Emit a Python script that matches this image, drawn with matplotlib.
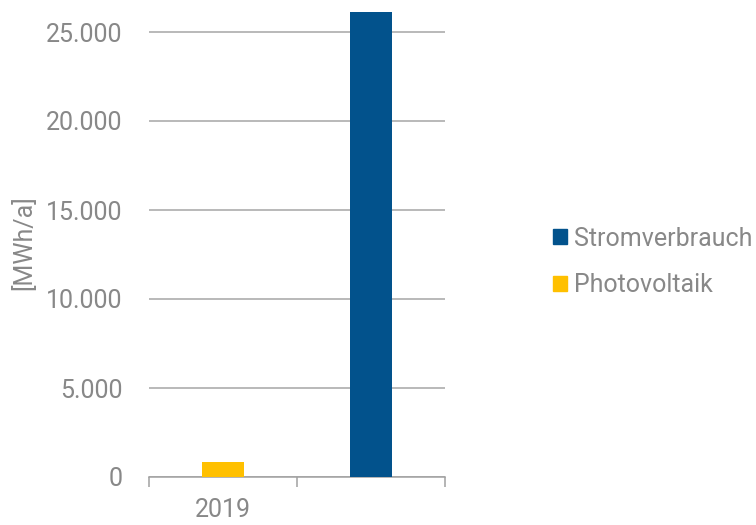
import matplotlib as mpl
mpl.use('Agg')
import matplotlib.pyplot as plt
from matplotlib.ticker import FuncFormatter, MultipleLocator
from matplotlib.patches import Patch

categories = ['2019', '']
pv = [850, 0]
verbrauch = [0, 26150]
series_names = ['Stromverbrauch', 'Photovoltaik']

grey = '#888888'
blue = '#02528C'
yellow = '#FFC000'

plt.rcParams['font.family'] = ['Roboto', 'DejaVu Sans']

fig = plt.figure(figsize=(7.56, 5.25), dpi=100)
ymax = 26300
ax = fig.add_axes([149 / 756, 48 / 525, 296 / 756, ymax / 5000 * 89 / 525])

x = list(range(len(categories)))
ax.bar(x, pv, width=0.29, color=yellow, zorder=3)
ax.bar(x, verbrauch, width=0.29, color=blue, zorder=3)

ax.set_xlim(-0.5, 1.5)
ax.set_ylim(0, ymax)
ax.yaxis.set_major_locator(MultipleLocator(5000))
ax.yaxis.set_major_formatter(FuncFormatter(lambda v, p: f'{int(v):,}'.replace(',', '.')))
ax.grid(axis='y', color='#a6a6a6', linewidth=1.1, zorder=0)

for s in ['top', 'right', 'left']:
    ax.spines[s].set_visible(False)
ax.spines['bottom'].set_color('#a0a0a0')
ax.spines['bottom'].set_linewidth(1.1)

ax.set_xticks(x)
ax.set_xticklabels(categories)
ax.set_xticks([-0.5, 0.5, 1.5], minor=True)
ax.tick_params(axis='x', which='major', length=0, pad=15, labelsize=18, labelcolor=grey)
ax.tick_params(axis='x', which='minor', length=7, width=1.1, color='#a0a0a0')
ax.tick_params(axis='y', length=0, pad=19, labelsize=18, labelcolor=grey)

ax.set_ylabel('[MWh/a]', fontsize=18, color=grey, labelpad=7)

handles = [Patch(color=blue), Patch(color=yellow)]
fig.legend(handles, series_names, loc='center left', bbox_to_anchor=(553 / 756, 0.501),
           frameon=False, fontsize=18, labelcolor=grey, handlelength=0.55,
           handleheight=0.55, handletextpad=0.3, labelspacing=0.9,
           borderpad=0, borderaxespad=0)

fig.savefig('out.png', dpi=100)
